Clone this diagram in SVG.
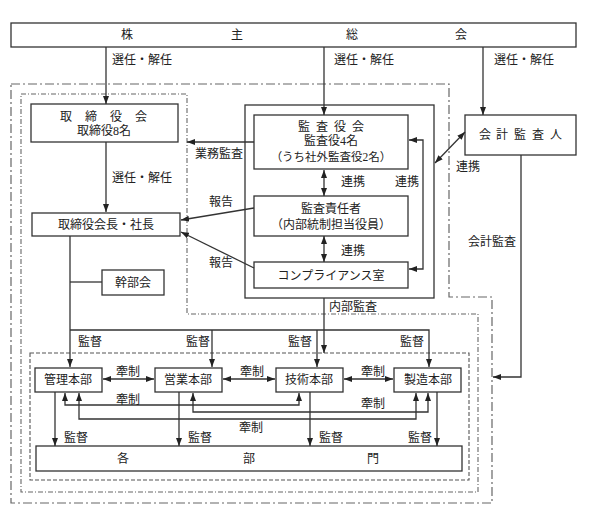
<svg xmlns="http://www.w3.org/2000/svg" width="593" height="520" viewBox="0 0 593 520">
<style>
text{font-family:"Liberation Serif","Noto Sans CJK JP",serif;font-size:12px;fill:#222;text-anchor:middle}
.box{fill:#fff;stroke:#333;stroke-width:1.3}
.ln{fill:none;stroke:#333;stroke-width:1.3}
.a{marker-end:url(#ah)}
.d{marker-start:url(#ah);marker-end:url(#ah)}
.b1{fill:none;stroke:#666;stroke-width:1.2;stroke-dasharray:9 3 2 3}
.b2{fill:none;stroke:#666;stroke-width:1.1;stroke-dasharray:5 2 1 2}
.b3{fill:none;stroke:#555;stroke-width:1.1;stroke-dasharray:4 2}
</style>
<defs>
<marker id="ah" viewBox="0 0 8 6" refX="8" refY="3" markerWidth="8" markerHeight="6" markerUnits="userSpaceOnUse" orient="auto-start-reverse">
<path d="M0,0 L8,3 L0,6 z" fill="#222"/>
</marker>
</defs>
<rect width="593" height="520" fill="#fff"/>

<g id="boundaries">
<path class="b1" d="M11,84 H449 V297 H492 V503 H11 Z"/>
<path class="b2" d="M21,94 H187 V314 H478 V492 H21 Z"/>
<rect class="b3" x="30" y="353" width="439" height="127"/>
</g>

<g id="shareholders">
<rect class="box" x="11" y="23" width="565" height="24"/>
<text x="127" y="39">株</text><text x="237" y="39">主</text><text x="352" y="39">総</text><text x="461" y="39">会</text>
</g>

<g id="board">
<rect class="box" x="31" y="104" width="147" height="38"/>
<text y="121"><tspan x="66">取</tspan><tspan x="91">締</tspan><tspan x="116">役</tspan><tspan x="141">会</tspan></text>
<text x="104" y="135">取締役8名</text>
</g>

<g id="president">
<rect class="box" x="32" y="213" width="148" height="23"/>
<text x="106" y="229">取締役会長・社長</text>
</g>

<g id="executive">
<rect class="box" x="102" y="270" width="62" height="25"/>
<text x="133" y="287">幹部会</text>
</g>

<g id="audit-group">
<rect class="box" x="245" y="105" width="189" height="193"/>
</g>

<g id="auditors">
<rect class="box" x="254" y="115" width="154" height="54"/>
<text y="131"><tspan x="304">監</tspan><tspan x="322">査</tspan><tspan x="340">役</tspan><tspan x="358">会</tspan></text>
<text x="331" y="145">監査役4名</text>
<text x="331" y="161" style="font-size:11.5px">（うち社外監査役2名）</text>
</g>

<g id="audit-officer">
<rect class="box" x="254" y="196" width="154" height="40"/>
<text x="331" y="213">監査責任者</text>
<text x="331" y="229">（内部統制担当役員）</text>
</g>

<g id="compliance">
<rect class="box" x="254" y="262" width="154" height="26"/>
<text x="331" y="280">コンプライアンス室</text>
</g>

<g id="accounting-auditor">
<rect class="box" x="465" y="115" width="111" height="40"/>
<text y="139"><tspan x="485">会</tspan><tspan x="502">計</tspan><tspan x="520">監</tspan><tspan x="538">査</tspan><tspan x="556">人</tspan></text>
</g>

<g id="hq-admin">
<rect class="box" x="35" y="368" width="67" height="24"/>
<text x="68" y="384">管理本部</text>
</g>
<g id="hq-sales">
<rect class="box" x="155" y="368" width="67" height="24"/>
<text x="188" y="384">営業本部</text>
</g>
<g id="hq-tech">
<rect class="box" x="276" y="368" width="67" height="24"/>
<text x="309" y="384">技術本部</text>
</g>
<g id="hq-mfg">
<rect class="box" x="394" y="368" width="67" height="24"/>
<text x="428" y="384">製造本部</text>
</g>

<g id="departments">
<rect class="box" x="36" y="446" width="426" height="25"/>
<text x="123" y="463">各</text><text x="249" y="463">部</text><text x="373" y="463">門</text>
</g>

<g id="connectors">
<path class="ln a" d="M106,47 V104"/>
<path class="ln a" d="M324,47 V115"/>
<path class="ln a" d="M483,47 V115"/>
<path class="ln a" d="M106,142 V212"/>
<path class="ln a" d="M254,142 H187"/>
<path class="ln a" d="M254,208 L181,220"/>
<path class="ln a" d="M254,268 L181,232"/>
<path class="ln d" d="M324,170 V196"/>
<path class="ln d" d="M324,236 V262"/>
<path class="ln d" d="M409,140 H423 V269 H409"/>
<path class="ln d" d="M435,163 L465,132"/>
<path class="ln a" d="M521,155 V377 H493"/>
<path class="ln a" d="M324,298 V353"/>
<path class="ln" d="M70,282 H102"/>
<path class="ln a" d="M70,236 V367"/>
<path class="ln a" d="M70,330 H429 V367"/>
<path class="ln a" d="M212,330 V367"/>
<path class="ln a" d="M317,330 V367"/>
<path class="ln d" d="M103,379 H154"/>
<path class="ln d" d="M223,379 H275"/>
<path class="ln d" d="M344,379 H393"/>
<path class="ln d" d="M65,393 V405 H299 V393"/>
<path class="ln d" d="M79,393 V419 H416 V393"/>
<path class="ln d" d="M193,393 V412 H428 V393"/>
<path class="ln a" d="M55,392 V446"/>
<path class="ln a" d="M179,392 V446"/>
<path class="ln a" d="M310,392 V446"/>
<path class="ln a" d="M437,392 V446"/>
</g>

<g id="labels">
<text x="142" y="64">選任・解任</text>
<text x="364" y="64">選任・解任</text>
<text x="524" y="64">選任・解任</text>
<text x="142" y="182">選任・解任</text>
<text x="219" y="158">業務監査</text>
<text x="221" y="206">報告</text>
<text x="221" y="267">報告</text>
<text x="353" y="186">連携</text>
<text x="353" y="255">連携</text>
<text x="407" y="186">連携</text>
<text x="468" y="171">連携</text>
<text x="492" y="246">会計監査</text>
<text x="353" y="311">内部監査</text>
<text x="90" y="346">監督</text>
<text x="198" y="346">監督</text>
<text x="300" y="346">監督</text>
<text x="412" y="346">監督</text>
<text x="128" y="376">牽制</text>
<text x="252" y="376">牽制</text>
<text x="373" y="376">牽制</text>
<text x="128" y="404">牽制</text>
<text x="373" y="408">牽制</text>
<text x="251" y="432">牽制</text>
<text x="76" y="442">監督</text>
<text x="200" y="442">監督</text>
<text x="331" y="442">監督</text>
<text x="420" y="442">監督</text>
</g>
</svg>
